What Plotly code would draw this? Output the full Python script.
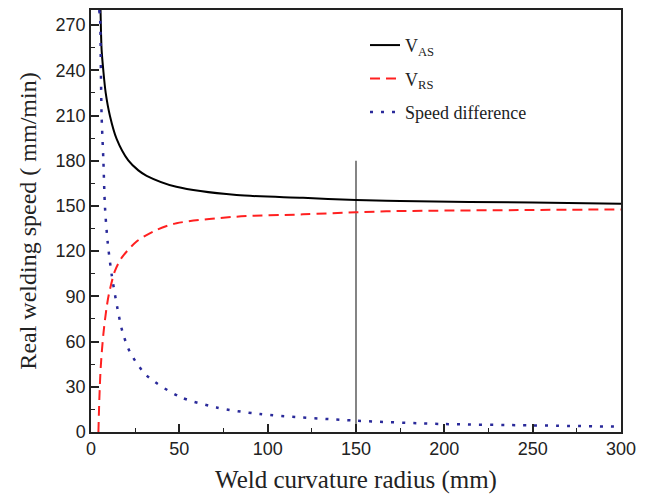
import plotly.graph_objects as go

# V_AS (solid black)
vas_x = [5.4, 6.0, 7.0, 8.3, 10.7, 14.5, 21.1, 26.8, 31.5, 48.3, 82.4, 120, 150, 175, 250, 300]
vas_y = [280, 253.7, 239.5, 225.2, 209.9, 194.5, 180.2, 173.6, 170.0, 162.7, 157.2, 155.4, 153.9, 153.2, 152.2, 151.5]

# V_RS (dashed red)
vrs_x = [4.2, 4.7, 5.5, 7.0, 8.7, 10.1, 13.5, 17.3, 25.8, 37.1, 48.4, 82.4, 120, 150, 175, 250, 300]
vrs_y = [0, 21, 43, 65, 81.4, 91.3, 106.7, 115.5, 126.4, 134.1, 138.5, 142.9, 144.4, 145.8, 146.6, 147.3, 147.7]

# Speed difference (dotted blue)
diff_x = [4.6, 5.1, 5.6, 6.0, 7.0, 7.9, 9.4, 11.7, 14.9, 17.7, 22.1, 31.5, 50.4, 71, 95.6, 150.3, 199.3, 250, 300]
diff_y = [280, 275.7, 239.5, 209.9, 180.2, 149.5, 126.4, 104.4, 82.5, 67, 52.9, 37.5, 23.3, 16.3, 11.9, 7.5, 5.3, 4.4, 3.5]

# vertical marker line
mark_x = [150, 150]
mark_y = [0, 180]

fig = go.Figure()
fig.add_trace(go.Scatter(x=mark_x, y=mark_y, mode="lines", showlegend=False,
                         line=dict(color="#333333", width=1.2)))
fig.add_trace(go.Scatter(x=vas_x, y=vas_y, mode="lines", name="V<sub>AS</sub>",
                         legendgroup="a", line=dict(color="black", width=2, shape="spline", smoothing=0.8)))
fig.add_trace(go.Scatter(x=vrs_x, y=vrs_y, mode="lines", name="V<sub>RS</sub>",
                         legendgroup="b", line=dict(color="#ff2020", width=2, dash="10px,6px", shape="spline", smoothing=0.8)))
fig.add_trace(go.Scatter(x=diff_x, y=diff_y, mode="lines", name="Speed difference",
                         legendgroup="c", line=dict(color="#2a2a9a", width=2.5, dash="3px,8px", shape="spline", smoothing=0.8)))

tickfont = dict(family="Liberation Sans, Arial", size=18, color="#222222")
serif = "Liberation Serif, Times New Roman"
fig.update_layout(
    width=645, height=488,
    margin=dict(l=83, r=32, t=0, b=64),
    plot_bgcolor="white", paper_bgcolor="white",
    legend=dict(x=0.517, y=0.96, xanchor="left", yanchor="top",
                font=dict(family=serif, size=18, color="#222222"),
                bgcolor="rgba(0,0,0,0)", tracegroupgap=7),
    xaxis=dict(range=[0, 300], dtick=50, tick0=0, ticks="inside", ticklen=8, tickwidth=1.5,
               tickcolor="#222", showline=True, linecolor="#222", linewidth=1.5, mirror=True,
               showgrid=False, zeroline=False, tickfont=tickfont,
               minor=dict(dtick=25, ticks="inside", ticklen=4, tickcolor="#222", tickwidth=1.2),
               title=dict(text="Weld curvature radius (mm)", standoff=12,
                          font=dict(family=serif, size=25, color="#222"))),
    yaxis=dict(range=[0, 280], dtick=30, tick0=0, ticks="inside", ticklen=8, tickwidth=1.5,
               tickcolor="#222", showline=True, linecolor="#222", linewidth=1.5, mirror=True,
               showgrid=False, zeroline=False, tickfont=tickfont,
               minor=dict(dtick=15, ticks="inside", ticklen=4, tickcolor="#222", tickwidth=1.2),
               title=dict(text="Real welding speed ( mm/min)", standoff=12,
                          font=dict(family=serif, size=24, color="#222"))),
)
fig.write_html("out.html")
